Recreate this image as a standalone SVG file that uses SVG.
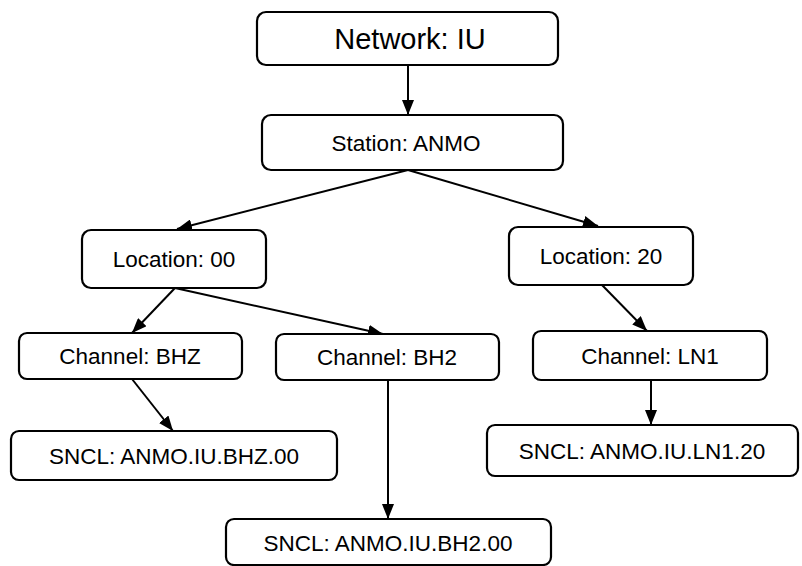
<svg xmlns="http://www.w3.org/2000/svg" width="802" height="566" viewBox="0 0 802 566">
<style>
.box{fill:#fff;stroke:#000;stroke-width:2.2}
.t{font-family:"Liberation Sans",Arial,sans-serif;font-size:22.5px;fill:#000;text-anchor:middle;dominant-baseline:central}
.big{font-size:29px}
.c{stroke:#000;stroke-width:2;fill:none;marker-end:url(#ah)}
</style>
<defs>
<marker id="ah" markerUnits="userSpaceOnUse" markerWidth="15" markerHeight="12" viewBox="0 0 15 12" refX="15" refY="6" orient="auto">
<path d="M0,0 L15,6 L0,12 Z" fill="#000"/>
</marker>
</defs>
<rect width="802" height="566" fill="#fff"/>
<g id="connectors">
<line class="c" x1="408" y1="65" x2="408" y2="115"/>
<line class="c" x1="408" y1="170" x2="177" y2="229"/>
<line class="c" x1="408" y1="170" x2="598" y2="226"/>
<line class="c" x1="175" y1="288" x2="132" y2="333"/>
<line class="c" x1="175" y1="288" x2="383" y2="334"/>
<line class="c" x1="602" y1="285" x2="647" y2="331"/>
<line class="c" x1="132" y1="379" x2="173" y2="431"/>
<line class="c" x1="388" y1="380" x2="388" y2="519"/>
<line class="c" x1="651" y1="380" x2="651" y2="425"/>
</g>
<g id="network"><rect class="box" x="257" y="12" width="301" height="53" rx="9"/><text class="t big" x="410" y="39">Network: IU</text></g>
<g id="station"><rect class="box" x="262" y="115" width="301" height="55" rx="9"/><text class="t" x="406" y="143">Station: ANMO</text></g>
<g id="loc00"><rect class="box" x="82" y="230" width="184" height="58" rx="9"/><text class="t" x="174" y="259">Location: 00</text></g>
<g id="loc20"><rect class="box" x="509" y="227" width="184" height="58" rx="9"/><text class="t" x="601" y="256">Location: 20</text></g>
<g id="chBHZ"><rect class="box" x="19" y="333" width="223" height="46" rx="8"/><text class="t" x="130" y="356">Channel: BHZ</text></g>
<g id="chBH2"><rect class="box" x="276" y="334" width="223" height="46" rx="8"/><text class="t" x="387" y="357">Channel: BH2</text></g>
<g id="chLN1"><rect class="box" x="533" y="331" width="234" height="49" rx="8"/><text class="t" x="650" y="356">Channel: LN1</text></g>
<g id="snclBHZ"><rect class="box" x="11" y="431" width="326" height="49" rx="8"/><text class="t" x="174" y="456">SNCL: ANMO.IU.BHZ.00</text></g>
<g id="snclBH2"><rect class="box" x="226" y="519" width="325" height="46" rx="8"/><text class="t" x="388" y="543">SNCL: ANMO.IU.BH2.00</text></g>
<g id="snclLN1"><rect class="box" x="487" y="425" width="311" height="51" rx="8"/><text class="t" x="642" y="451">SNCL: ANMO.IU.LN1.20</text></g>
</svg>
